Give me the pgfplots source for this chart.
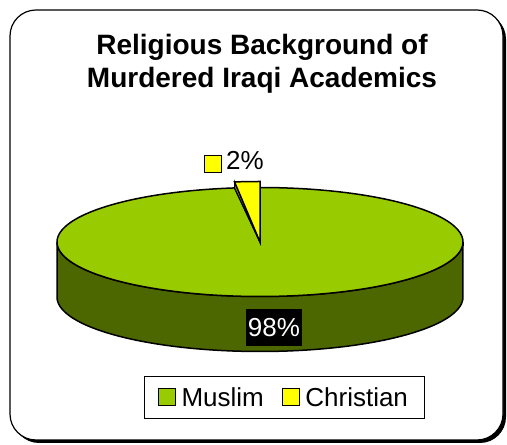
\documentclass[border=0pt]{standalone}
\usepackage{fontspec}
\setmainfont{Liberation Sans}
\usepackage{pgfplots}
\usepackage{pgfplotstable}
\pgfplotsset{compat=1.18}

\definecolor{muslimtop}{RGB}{153,204,0}
\definecolor{muslimside}{RGB}{76,102,0}
\definecolor{christian}{RGB}{255,255,0}
\definecolor{christianside}{RGB}{153,153,0}

\pgfplotstableread{
religion share
Muslim 98
Christian 2
}\piedata

\begin{document}
\begin{tikzpicture}
\pgfplotstablegetelem{0}{share}\of\piedata\let\muslim\pgfplotsretval
\pgfplotstablegetelem{1}{share}\of\piedata\let\christ\pgfplotsretval
% pie geometry (1 unit = 1 px of the reference)
\def\cx{260}\def\cy{203}\def\rx{203}\def\ry{54.5}\def\dep{55}\def\lift{6}
\pgfmathsetmacro\cut{90+3.6*\christ}
\pgfmathsetmacro\cutx{\cx+\rx*cos(\cut)}
\pgfmathsetmacro\cuty{\cy+\ry*sin(\cut)}
\pgfmathsetmacro\cutyl{\cuty+\lift}

\useasboundingbox (0,0) rectangle (507bp,445bp);
% chart frame with shadow
\fill[black, rounded corners=26bp] (13bp,2bp) rectangle (506bp,432bp);
\filldraw[fill=white, draw=black, line width=1.2bp, rounded corners=26bp] (10bp,5bp) rectangle (503bp,435bp);

\begin{axis}[
  scale only axis, width=507bp, height=445bp,
  xmin=0, xmax=507, ymin=0, ymax=445,
  hide axis, clip=false,
  legend columns=2,
  legend style={at={(axis cs:284,47.5)}, anchor=center, draw=black,
    line width=0.8bp, font=\fontsize{26bp}{30bp}\selectfont,
    inner xsep=14bp, inner ysep=9bp,
    /tikz/every even column/.append style={column sep=16bp}},
  legend image code/.code={\draw[#1, line width=1bp] (0bp,-8.5bp) rectangle (17bp,8.5bp);
    \path[draw=none, fill=none] (17bp,0bp) -- (21bp,0bp);},
]
% side of the pie
\addplot[forget plot, fill=muslimside, draw=black, line width=1.5bp,
  domain=180:540, samples=181, variable=\t]
  ({\cx+\rx*cos(\t)}, {(\t<=360) ? (\cy+\ry*sin(\t)) : (\cy-\dep-\ry*sin(\t))}) -- cycle;
% top of the Muslim slice
\addplot[fill=muslimtop, draw=black, line width=1.5bp,
  domain=\cut:450, samples=177, variable=\t]
  ({\cx+\rx*cos(\t)}, {\cy+\ry*sin(\t)}) -- (axis cs:\cx,\cy) -- cycle;
\addlegendentry{Muslim}
% cut face of the Christian slice
\filldraw[fill=christianside, draw=black, line width=1bp]
  (axis cs:\cx,\cy) -- (axis cs:\cutx,\cuty) -- (axis cs:\cutx,\cutyl) -- cycle;
\addplot[fill=christian, draw=black, line width=1.5bp,
  domain=90:\cut, samples=10, variable=\t]
  ({\cx+\rx*cos(\t)}, {\cy+\lift+\ry*sin(\t)}) -- (axis cs:\cx,\cy) -- cycle;
\addlegendentry{Christian}

% data labels
\node[fill=black, text=white, font=\fontsize{26bp}{30bp}\selectfont,
  inner xsep=2bp, inner ysep=0pt, minimum height=37bp] at (axis cs:274,117.5) {98\%};
\draw[fill=christian, line width=1bp] (axis cs:204,272) rectangle (axis cs:221,289);
\node[anchor=base west, inner sep=0pt, font=\fontsize{26bp}{30bp}\selectfont]
  at (axis cs:226,275) {2\%};

% title
\node[anchor=base, inner sep=0pt, font=\bfseries\fontsize{28bp}{33bp}\selectfont]
  at (axis cs:262,390) {Religious Background of};
\node[anchor=base, inner sep=0pt, font=\bfseries\fontsize{28bp}{33bp}\selectfont]
  at (axis cs:262,357) {Murdered Iraqi Academics};
\end{axis}
\end{tikzpicture}
\end{document}
